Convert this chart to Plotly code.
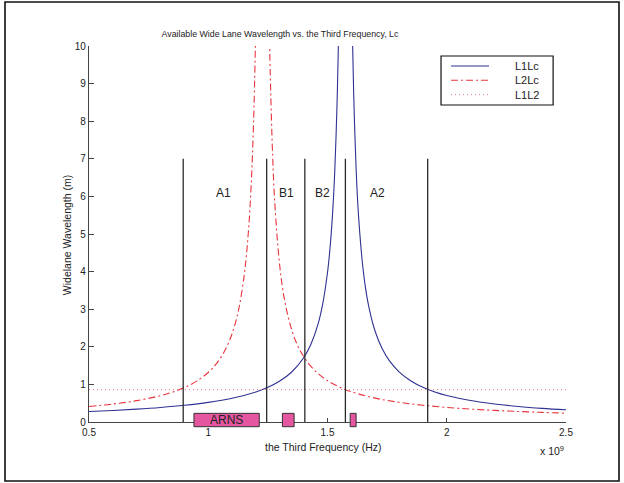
import plotly.graph_objects as go

# ---------------- data ----------------
# L1Lc wide-lane wavelength (m) vs third frequency (x 1e9 Hz)
l1lc_left_f = [0.5, 0.6, 0.7, 0.8, 0.9, 1.0, 1.1, 1.2, 1.25, 1.3, 1.35, 1.4, 1.43,
               1.46, 1.48, 1.50, 1.51, 1.52, 1.53, 1.54, 1.545, 1.546]
l1lc_left_w = [0.2788, 0.3073, 0.3425, 0.3866, 0.4439, 0.5210, 0.6306, 0.7985, 0.9212,
               1.0885, 1.3299, 1.7090, 2.0615, 2.5974, 3.1418, 3.9750, 4.5826, 5.4094,
               6.6004, 8.4639, 9.855, 10.19]
l1lc_right_f = [1.605, 1.61, 1.62, 1.63, 1.65, 1.67, 1.70, 1.73, 1.76, 1.80, 1.85, 1.90,
                1.95, 2.0, 2.1, 2.2, 2.3, 2.4, 2.5]
l1lc_right_w = [10.135, 8.6695, 6.7248, 5.4927, 4.0197, 3.1697, 2.4064, 1.9394, 1.6242,
                1.3349, 1.0918, 0.9236, 0.8003, 0.7061, 0.5715, 0.4800, 0.4137, 0.3636,
                0.3242]

# L2Lc
l2lc_left_f = [0.5, 0.6, 0.7, 0.8, 0.85, 0.9, 0.95, 1.0, 1.03, 1.06, 1.09, 1.11, 1.13,
               1.15, 1.16, 1.17, 1.18, 1.19, 1.198]
l2lc_left_w = [0.4120, 0.4777, 0.5682, 0.7011, 0.7939, 0.9151, 1.0799, 1.3172, 1.5172,
               1.7887, 2.1787, 2.5492, 3.0716, 3.8633, 4.4348, 5.2047, 6.2981, 7.9731,
               10.128]
l2lc_right_f = [1.257, 1.26, 1.27, 1.28, 1.30, 1.32, 1.35, 1.38, 1.42, 1.46, 1.50, 1.55,
                1.60, 1.70, 1.80, 1.90, 2.0, 2.1, 2.2, 2.3, 2.4, 2.5]
l2lc_right_w = [10.197, 9.2528, 7.0705, 5.7212, 4.1408, 3.2445, 2.4493, 1.9671, 1.5582,
                1.2900, 1.1006, 0.9299, 0.8050, 0.6346, 0.5237, 0.4459, 0.3881, 0.3436,
                0.3083, 0.2796, 0.2557, 0.2356]

# L1L2 (constant)
l1l2_f = [0.5, 2.5]
l1l2_w = [0.862, 0.862]

# region boundaries and labels
boundary_f = [0.895, 1.245, 1.405, 1.575, 1.92]
boundary_top = 7
region_labels = ["A1", "B1", "B2", "A2"]
region_label_f = [1.062, 1.329, 1.478, 1.709]
region_label_w = [6.1, 6.1, 6.1, 6.1]

# ARNS bands
arns_start = [0.940, 1.311, 1.595]
arns_end = [1.214, 1.360, 1.620]

series_names = ["L1Lc", "L2Lc", "L1L2"]

x_tickvals = [0.5, 1, 1.5, 2, 2.5]
x_ticktext = ["0.5", "1", "1.5", "2", "2.5"]
y_tickvals = list(range(0, 11))

# ---------------- styles ----------------
FONT = "Liberation Sans, Arial, Helvetica, sans-serif"
BLUE = "#2f3193"
RED = "#e8343c"
PINK = "#e57a94"
DARK = "#222222"
ARNS_FILL = "#e4569f"
DASHDOT = "7px,3px,2px,3px"

line_styles = [dict(color=BLUE, width=1.1),
               dict(color=RED, width=1.1, dash=DASHDOT),
               dict(color=PINK, width=1, dash="1px,3px")]

fig = go.Figure()

fig.add_trace(go.Scatter(x=l1lc_left_f + [None] + l1lc_right_f,
                         y=l1lc_left_w + [None] + l1lc_right_w,
                         mode="lines", name=series_names[0],
                         line=dict(**line_styles[0], shape="spline", smoothing=1.0),
                         showlegend=False))
fig.add_trace(go.Scatter(x=l2lc_left_f + [None] + l2lc_right_f,
                         y=l2lc_left_w + [None] + l2lc_right_w,
                         mode="lines", name=series_names[1],
                         line=dict(**line_styles[1], shape="spline", smoothing=1.0),
                         showlegend=False))
fig.add_trace(go.Scatter(x=l1l2_f, y=l1l2_w, mode="lines", name=series_names[2],
                         line=line_styles[2], showlegend=False))

shapes = []
for f in boundary_f:
    shapes.append(dict(type="line", xref="x", yref="y", x0=f, x1=f, y0=0, y1=boundary_top,
                       line=dict(color="#2a2a2a", width=1.3)))
for a, b in zip(arns_start, arns_end):
    shapes.append(dict(type="rect", xref="x", yref="paper", x0=a, x1=b, y0=-0.0125, y1=0.023,
                       fillcolor=ARNS_FILL, line=dict(color="#333333", width=1), layer="above"))

# legend (manual, to match the compact MATLAB box)
leg_center = 0.9088
leg_rows = [0.9468, 0.9088, 0.8707]
shapes.append(dict(type="rect", xref="paper", yref="paper", x0=0.738, x1=0.973, y0=0.8431, y1=0.9734,
                   line=dict(color="#111111", width=1.2), fillcolor="white", layer="above"))
for yy, st in zip(leg_rows, line_styles):
    shapes.append(dict(type="line", xref="paper", yref="paper", x0=0.759, x1=0.8386, y0=yy, y1=yy,
                       line=st, layer="above"))

# figure frame
shapes.append(dict(type="rect", xref="paper", yref="paper", x0=-0.1761, x1=1.1111,
                   y0=-0.1569, y1=1.117, line=dict(color="#111111", width=1.6)))

annotations = []
annotations.append(dict(xref="paper", yref="paper", x=0.889, y=leg_center,
                        text="<br>".join(series_names), showarrow=False, align="left",
                        xanchor="left", yanchor="middle", font=dict(size=11, color=DARK)))
for t, xf, yw in zip(region_labels, region_label_f, region_label_w):
    annotations.append(dict(xref="x", yref="y", x=xf, y=yw, text=t, showarrow=False,
                            xanchor="center", yanchor="middle", font=dict(size=12, color=DARK)))
annotations.append(dict(xref="x", yref="paper", x=(arns_start[0] + arns_end[0]) / 2, y=0.005,
                        text="ARNS", showarrow=False, xanchor="center", yanchor="middle",
                        font=dict(size=12, color=DARK)))
annotations.append(dict(xref="paper", yref="paper", x=0.4906, y=-0.0652,
                        text="the Third Frequency (Hz)", showarrow=False,
                        xanchor="center", yanchor="middle", font=dict(size=10.5, color=DARK)))
annotations.append(dict(xref="paper", yref="paper", x=-0.0461, y=0.497,
                        text="Widelane Wavelength (m)", showarrow=False, textangle=-90,
                        xanchor="center", yanchor="middle", font=dict(size=10.5, color=DARK)))
annotations.append(dict(xref="paper", yref="paper", x=1.0, y=-0.0745,
                        text="x 10<sup>9</sup>", showarrow=False,
                        xanchor="right", yanchor="middle", font=dict(size=10.5, color=DARK)))

fig.update_layout(
    width=624, height=483,
    margin=dict(l=89, r=58, t=46, b=61),
    paper_bgcolor="white", plot_bgcolor="white",
    font=dict(family=FONT, size=10, color=DARK),
    title=dict(text="Available Wide Lane Wavelength vs. the Third Frequency, Lc",
               x=0.4487, xanchor="center", y=0.9296, yanchor="middle",
               font=dict(size=8.8, color=DARK)),
    shapes=shapes, annotations=annotations,
    xaxis=dict(range=[0.5, 2.5], tickvals=x_tickvals, ticktext=x_ticktext,
               showgrid=False, zeroline=False, showline=True, linecolor="#444444",
               linewidth=1.3, ticks="inside", ticklen=4, tickcolor="#444444",
               ticklabelstandoff=1, tickfont=dict(size=10, color=DARK)),
    yaxis=dict(range=[0, 10], tickvals=y_tickvals,
               showgrid=False, zeroline=False, showline=True, linecolor="#444444",
               linewidth=1.3, ticks="inside", ticklen=5, tickcolor="#444444",
               tickfont=dict(size=10, color=DARK)),
)

fig.write_html("out.html", config={"displayModeBar": False},
               post_script="document.body.style.margin='0';document.body.style.overflow='hidden';")
